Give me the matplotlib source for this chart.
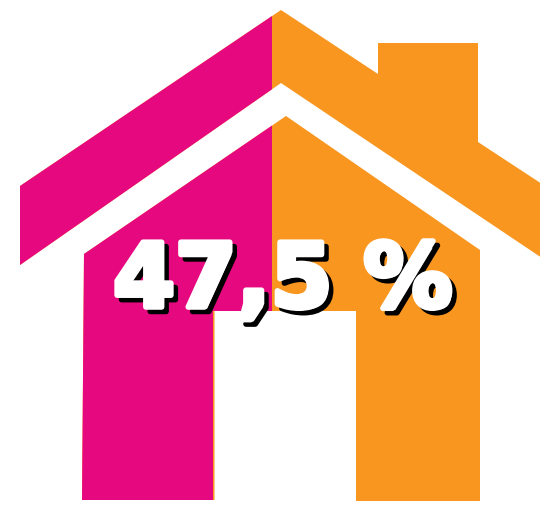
import matplotlib
matplotlib.use("Agg")
import matplotlib.pyplot as plt
import matplotlib.patheffects as pe
from matplotlib.path import Path

# Share shown by the house pictogram
share = [47.5, 52.5]
share_colors = ["#E6087F", "#F9961F"]
label = "47,5 %"

W, H = 540, 505


def house_path(door_left):
    # Roof with chimney + body with door notch, in pixels
    roof = [(20, 186), (281, 10), (378, 74), (378, 43), (478, 43), (478, 142),
            (542, 184), (542, 258), (281, 83), (20, 265)]
    body = [(82, 500), (84, 254), (286, 116), (480, 250), (480, 501), (356, 501),
            (356, 311), (door_left, 311), (door_left, 500)]
    verts, codes = [], []
    for poly in (roof, body):
        verts += poly + [poly[0]]
        codes += [Path.MOVETO] + [Path.LINETO] * (len(poly) - 1) + [Path.CLOSEPOLY]
    return Path(verts, codes)


fig = plt.figure(figsize=(W / 100, H / 100), dpi=100)
ax = fig.add_axes([0, 0, 1, 1])
ax.set_xlim(0, W)
ax.set_ylim(H, 0)
ax.axis("off")

# Axis for the percent bar: 0-100 runs from 20 px to 550.5 px
bar_ax = fig.add_axes([20 / W, 0, 530.5 / W, 1])
bar_ax.set_xlim(0, 100)
bar_ax.set_ylim(0, 1)
bar_ax.axis("off")
bar_ax.patch.set_alpha(0)

under = bar_ax.barh(0.5, 100, height=1, color=share_colors[1])
over = bar_ax.barh(0.5, share[0], height=1, color=share_colors[0])
under[0].set_clip_path(house_path(214.5), ax.transData)
over[0].set_clip_path(house_path(213), ax.transData)

effects = [
    pe.Stroke(linewidth=4, foreground="black", offset=(3.2, -3.2)),
    pe.Stroke(linewidth=4, foreground="white"),
    pe.Normal(),
]
value_text = ax.text(283, 307, label, color="white", fontsize=64, fontweight="bold",
                     family="DejaVu Sans", ha="center", va="baseline", zorder=5,
                     path_effects=effects)
value_text.set_clip_on(False)
ax.set_zorder(2)

fig.savefig("out.png", dpi=100)
